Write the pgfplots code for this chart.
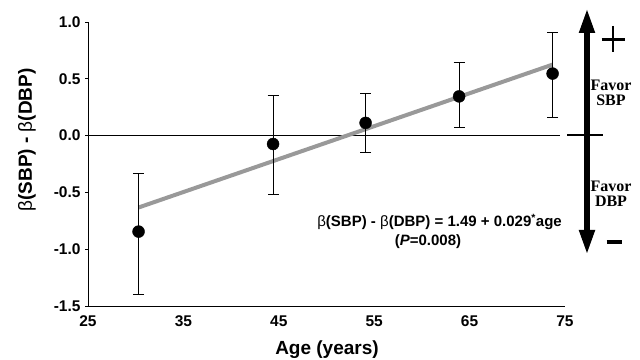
\documentclass[border=0pt]{standalone}
\usepackage{pgfplots}
\pgfplotsset{compat=1.18}
\usepackage{fontspec}
\setmainfont{Liberation Sans}
\newfontfamily\serifb{Liberation Serif}
\definecolor{reggray}{HTML}{999999}
\pgfplotstableread{
x y ep em
30.3 -0.845 0.515 0.550
44.4 -0.074 0.428 0.448
54.1 0.112 0.262 0.260
63.9 0.345 0.298 0.274
73.7 0.546 0.363 0.387
}\pts
\pgfplotstableread{
x y
30.3 -0.633
73.7 0.625
}\reg
\pgfplotstableread{
x y
25 0
74.5 0
}\zero
\newcommand{\tf}{\fontsize{15.5bp}{18bp}\selectfont\bfseries}
\newcommand{\bet}{\textmd{β}}
\begin{document}
\begin{tikzpicture}
\useasboundingbox (0,0) rectangle (640bp,360bp);
\begin{axis}[
  at={(88bp,54bp)}, anchor=south west,
  scale only axis, width=477bp, height=284bp,
  xmin=25, xmax=75, ymin=-1.5, ymax=1,
  axis x line*=bottom, axis y line*=left,
  axis line style={-, line width=0.9bp},
  xtick={25,35,45,55,65,75},
  xticklabels={25,35,45,55,65,75},
  ytick={-1.5,-1,-0.5,0,0.5,1},
  yticklabels={-1.5,-1.0,-0.5,0.0,0.5,1.0},
  x tick style={draw=none},
  y tick style={line width=0.8bp, black},
  tick align=outside, major tick length=3bp,
  ticklabel style={font=\tf},
  xticklabel style={yshift=-3bp},
  yticklabel style={xshift=-1bp},
  clip=false,
]
\addplot[black, line width=0.8bp] table {\zero};
\addplot[reggray, line width=4bp] table {\reg};
\addplot[black, only marks, mark=*, mark size=6bp,
  error bars/.cd, y dir=both, y explicit,
  error bar style={line width=0.9bp, black},
  error mark options={rotate=90, mark size=5.5bp, line width=0.9bp, black}]
  table[y error plus=ep, y error minus=em] {\pts};
\end{axis}
\begin{scope}[x=1bp, y=-1bp, yshift=360bp]
  % axis labels
  \node[rotate=90, font=\fontsize{19bp}{22bp}\selectfont\bfseries] at (27,140) {\bet(SBP) - \bet(DBP)};
  \node[font=\fontsize{19bp}{22bp}\selectfont\bfseries] at (327,350) {Age (years)};
  % equation
  \node[anchor=east, inner sep=0, font=\fontsize{15bp}{18bp}\selectfont\bfseries] at (562,222) {\bet(SBP) - \bet(DBP) = 1.49 + 0.029\textsuperscript{*}age};
  \node[inner sep=0, font=\fontsize{15bp}{18bp}\selectfont\bfseries] at (428,242) {(\textit{P}=0.008)};
  % right arrow
  \draw[line width=6.7bp] (587,30) -- (587,233);
  \fill (587,10) -- (578.7,33) -- (595.3,33) -- cycle;
  \fill (587,253) -- (578.7,230) -- (595.3,230) -- cycle;
  \draw[line width=1.5bp] (567,135) -- (603,135);
  \draw[line width=2.2bp] (601.7,39.5) -- (625,39.5);
  \draw[line width=2.2bp] (613.3,26) -- (613.3,52);
  \draw[line width=4bp] (606.7,242.5) -- (621.7,242.5);
  \node[font=\fontsize{16bp}{18bp}\selectfont\serifb\bfseries, align=center, inner sep=0] at (611,92.5) {Favor\\[-3bp]SBP};
  \node[font=\fontsize{16bp}{18bp}\selectfont\serifb\bfseries, align=center, inner sep=0] at (611,193.5) {Favor\\[-3bp]DBP};
\end{scope}
\end{tikzpicture}
\end{document}
